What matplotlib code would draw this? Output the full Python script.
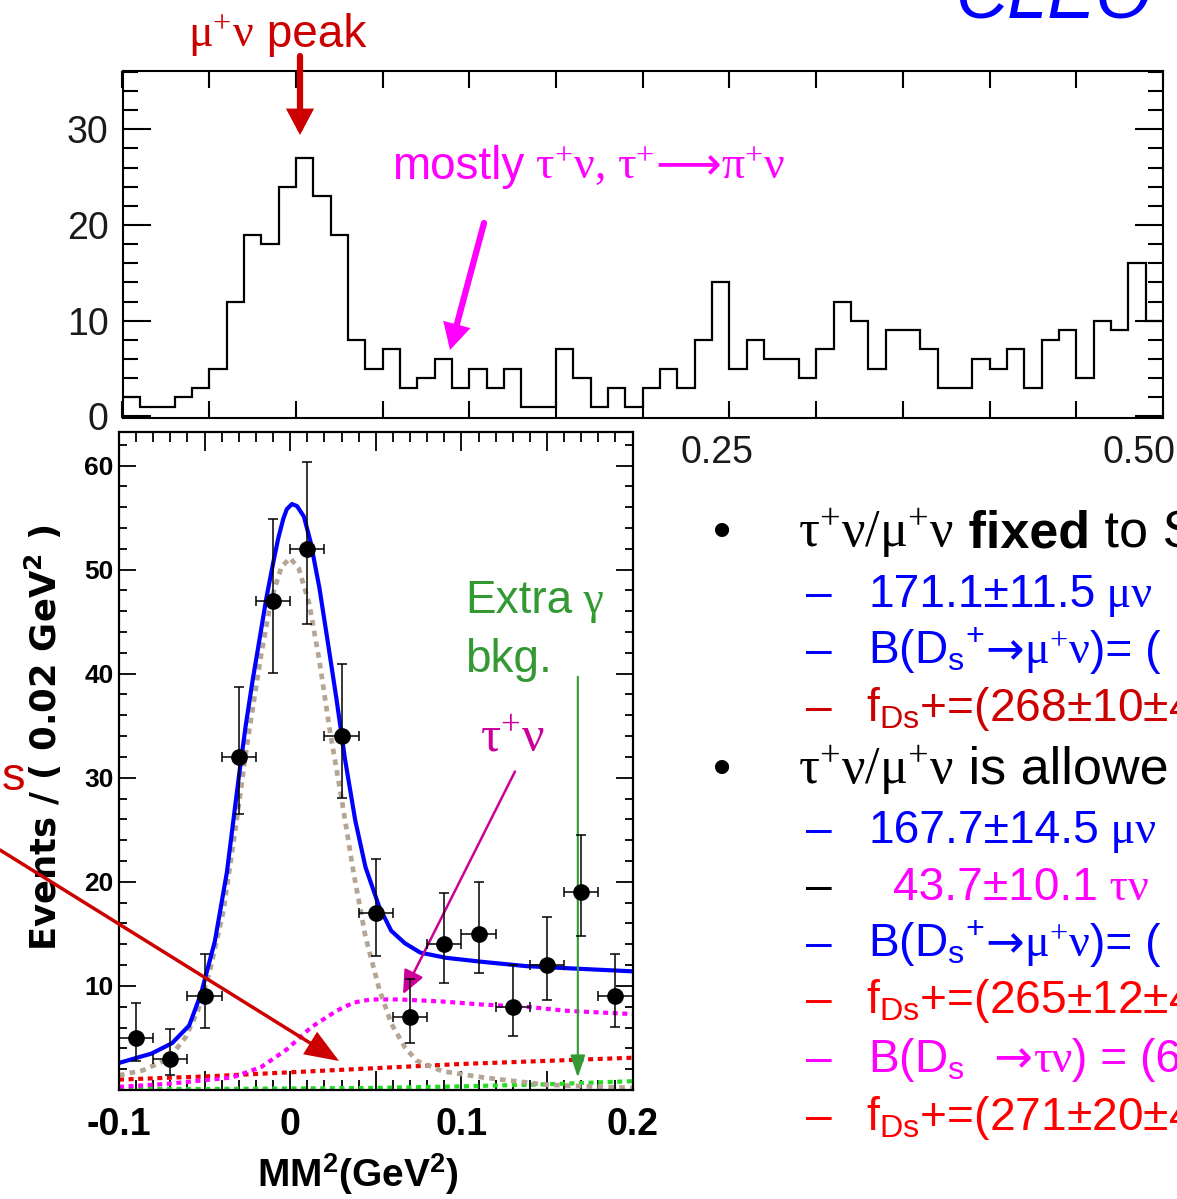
import matplotlib
matplotlib.use("Agg")
import matplotlib.pyplot as plt
import numpy as np
from matplotlib.ticker import MultipleLocator, FuncFormatter, NullFormatter

plt.rcParams["font.family"] = ["Liberation Sans", "DejaVu Sans"]
plt.rcParams["mathtext.default"] = "regular"

SANS = "Liberation Sans"
SERIF = "Liberation Serif"
ARROW = "DejaVu Sans"

# ---- top histogram: MM^2 over the full range, 0.01 GeV^2 bins ----
top_lo = -0.10
top_bin = 0.01
top_counts = [2, 1, 1, 2, 3, 5, 12, 19, 18, 24, 27, 23, 19, 8, 5, 7, 3, 4, 6, 3,
              5, 3, 5, 1, 1, 7, 4, 1, 3, 1, 3, 5, 3, 8, 14, 5, 8, 6, 6, 4,
              7, 12, 10, 5, 9, 9, 7, 3, 3, 6, 5, 7, 3, 8, 9, 4, 10, 9, 16, 10]
top_xlabels = [0.25, 0.50]

# ---- bottom fit: data points (0.02 GeV^2 bins) ----
mm2_x = [-0.09, -0.07, -0.05, -0.03, -0.01, 0.01, 0.03, 0.05, 0.07, 0.09,
         0.11, 0.13, 0.15, 0.17, 0.19]
events = [5, 3, 9, 32, 47, 52, 34, 17, 7, 14, 15, 8, 12, 19, 9]
ev_low = [2.8, 1.4, 6.0, 26.5, 40.1, 44.8, 28.1, 12.9, 4.5, 10.3, 11.2, 5.2, 8.6, 14.8, 6.1]
ev_high = [8.4, 5.9, 13.1, 38.7, 54.9, 60.3, 40.9, 22.2, 10.7, 18.9, 20.0, 12.0, 16.6, 24.5, 13.1]
bin_half = 0.01

# total fit (blue)
fit_x = [-0.100, -0.081, -0.069, -0.059, -0.052, -0.044, -0.037, -0.030, -0.026, -0.022,
         -0.017, -0.014, -0.010, -0.007, -0.004, -0.002, 0.001, 0.004, 0.008, 0.012,
         0.017, 0.022, 0.027, 0.032, 0.038, 0.044, 0.052, 0.059, 0.067, 0.076,
         0.091, 0.113, 0.138, 0.162, 0.200]
fit_y = [2.6, 3.5, 4.5, 6.2, 9.3, 14.3, 20.9, 30.1, 35.0, 39.3,
         44.2, 47.2, 50.6, 53.0, 54.9, 55.8, 56.3, 56.1, 55.1, 52.6,
         48.3, 43.0, 37.6, 31.8, 25.9, 21.4, 17.6, 15.3, 14.1, 13.2,
         12.7, 12.3, 11.9, 11.7, 11.4]
# mu nu signal shape (grey dotted)
sig_x = [-0.100, -0.086, -0.071, -0.061, -0.054, -0.047, -0.039, -0.032, -0.025, -0.017,
         -0.011, -0.005, 0.000, 0.005, 0.011, 0.017, 0.023, 0.030, 0.037, 0.044,
         0.052, 0.059, 0.067, 0.074, 0.089, 0.113, 0.150, 0.200]
sig_y = [1.4, 1.9, 3.0, 5.1, 7.6, 11.4, 17.2, 25.1, 33.4, 41.8,
         47.2, 50.3, 51.1, 50.1, 46.8, 41.3, 34.7, 28.0, 20.9, 14.7,
         9.7, 6.4, 4.1, 2.8, 1.8, 1.2, 0.5, 0.2]
# tau nu (magenta dotted)
tau_x = [-0.100, -0.071, -0.034, -0.017, -0.002, 0.012, 0.027, 0.037, 0.047, 0.064,
         0.089, 0.113, 0.138, 0.162, 0.200]
tau_y = [0.3, 0.6, 1.2, 2.2, 3.9, 6.0, 7.6, 8.4, 8.7, 8.7, 8.5, 8.2, 8.0, 7.6, 7.3]
# other Ds decays (red dotted)
bkg_x = [-0.10, -0.05, 0.00, 0.05, 0.10, 0.15, 0.20]
bkg_y = [1.0, 1.3, 1.7, 2.1, 2.5, 2.8, 3.1]
# extra gamma background (green dotted)
gam_x = [-0.10, -0.05, 0.00, 0.05, 0.10, 0.15, 0.20]
gam_y = [0.1, 0.1, 0.15, 0.2, 0.35, 0.55, 0.85]

W, H = 1177, 1199
fig = plt.figure(figsize=(W / 100, H / 100), dpi=100)

# ---------------- top panel ----------------
ax1 = fig.add_axes([122.5 / W, 1 - 418 / H, (1163 - 122.5) / W, (418 - 71) / H])
edges = top_lo + top_bin * np.arange(len(top_counts) + 1)
ax1.stairs(top_counts, edges, baseline=None, color="black", lw=1.6)
ax1.set_xlim(-0.10, 0.50)
ax1.set_ylim(-0.17, 36.1)
ax1.xaxis.set_major_locator(MultipleLocator(0.05))
ax1.xaxis.set_major_formatter(NullFormatter())
ax1.yaxis.set_major_locator(MultipleLocator(10))
ax1.yaxis.set_minor_locator(MultipleLocator(2))
ax1.tick_params(which="both", direction="in", top=True, right=True, width=1.5)
ax1.tick_params(axis="x", length=12)
ax1.tick_params(axis="y", which="major", length=20, labelsize=27, pad=10, labelcolor="#1a1a1a")
ax1.tick_params(axis="y", which="minor", length=11)
for sp in ax1.spines.values():
    sp.set_linewidth(1.5)
for v, dx in zip(top_xlabels, [-9, -17]):
    ax1.annotate("%.2f" % v, xy=(v, 0), xycoords=("data", "axes fraction"),
                 xytext=(dx, -12), textcoords="offset points",
                 ha="center", va="top", fontsize=27, color="#1a1a1a")

# ---------------- bottom panel ----------------
ax2 = fig.add_axes([119 / W, 1 - 1090 / H, (632.6 - 119) / W, (1090 - 431.7) / H])
dot = (0, (1.2, 1.1))
ax2.plot(gam_x, gam_y, color="#22dd22", lw=3, ls=dot)
ax2.plot(bkg_x, bkg_y, color="#ee0000", lw=3, ls=dot)
ax2.plot(tau_x, tau_y, color="#ff00ff", lw=3, ls=dot)
ax2.plot(sig_x, sig_y, color="#b4a595", lw=3.4, ls=dot)
ax2.plot(fit_x, fit_y, color="#0000ff", lw=3)
yerr = [np.array(events) - np.array(ev_low), np.array(ev_high) - np.array(events)]
ax2.errorbar(mm2_x, events, yerr=yerr, xerr=bin_half, fmt="o", color="black",
             ms=11, elinewidth=1.1, capsize=3.5, capthick=1.1, zorder=5)
ax2.set_xlim(-0.10, 0.20)
ax2.set_ylim(0, 63.25)
ax2.xaxis.set_major_locator(MultipleLocator(0.05))
ax2.xaxis.set_minor_locator(MultipleLocator(0.01))
ax2.yaxis.set_major_locator(MultipleLocator(10))
ax2.yaxis.set_minor_locator(MultipleLocator(2))


def xfmt(v, pos):
    k = int(round(v / 0.05))
    if k % 2:
        return ""
    return "0" if k == 0 else "%g" % (k * 0.05)


ax2.xaxis.set_major_formatter(FuncFormatter(xfmt))
ax2.yaxis.set_major_formatter(FuncFormatter(lambda v, p: "" if v < 1 else "%d" % v))
ax2.tick_params(which="both", direction="in", top=True, right=True, width=1.3)
ax2.tick_params(axis="x", which="major", length=14, labelsize=27, pad=12)
ax2.tick_params(axis="x", which="minor", length=7)
ax2.tick_params(axis="y", which="major", length=12, labelsize=19, pad=4)
ax2.tick_params(axis="y", which="minor", length=6)
for lab in ax2.get_xticklabels() + ax2.get_yticklabels():
    lab.set_fontweight("bold")
for sp in ax2.spines.values():
    sp.set_linewidth(1.6)
ax2.set_xlabel("MM$^{2}$(GeV$^{2}$)", fontsize=28, fontweight="bold")
ax2.xaxis.set_label_coords(0.465, -0.093)
ax2.set_ylabel("Events / ( 0.02 GeV$^{2}$ )", fontsize=25.5, fontweight="bold",
               family="DejaVu Sans", va="center")
ax2.yaxis.set_label_coords(-0.147, 0.535)

# arrows inside the fit panel
ax2.annotate("", xy=(0.168, 1.2), xytext=(0.168, 39.7),
             arrowprops=dict(arrowstyle="-|>,head_length=0.9,head_width=0.3",
                             color="#339933", lw=1.5, mutation_scale=15,
                             shrinkA=0, shrinkB=0))
ax2.annotate("", xy=(0.0659, 9.2), xytext=(0.1313, 30.6),
             arrowprops=dict(arrowstyle="-|>,head_length=0.8,head_width=0.35",
                             color="#cc0099", lw=1.8, mutation_scale=18,
                             shrinkA=0, shrinkB=0))

# ---------------- overlay in pixel coordinates ----------------
ov = fig.add_axes([0, 0, 1, 1], zorder=10)
ov.set_xlim(0, W)
ov.set_ylim(H, 0)
ov.axis("off")
rend = fig.canvas.get_renderer()


def chain(x, y, parts, size, color):
    for s, fam, wt in parts:
        t = ov.text(x, y, s, fontsize=size, family=fam, fontweight=wt,
                    color=color, va="baseline", ha="left")
        x += t.get_window_extent(rend).width
    return x


def arrow(p0, p1, color, lw, scale, hl=0.6, hw=0.32):
    ov.annotate("", xy=p1, xytext=p0,
                arrowprops=dict(arrowstyle="-|>,head_length=%g,head_width=%g" % (hl, hw),
                                color=color, lw=lw, mutation_scale=scale,
                                shrinkA=0, shrinkB=0, joinstyle="miter"))


# CLEO logo (cut at the top of the slide)
ov.text(955, 17, "CLEO", fontsize=52, style="italic", color="#0000ff", va="baseline")

# top panel annotations
chain(188, 47, [("μ$^{+}$ν", SERIF, "normal"), (" peak", SANS, "normal")], 33, "#cc0000")
arrow((300, 56), (300, 135), "#cc0000", 4.5, 20)
chain(392, 179, [("mostly", SANS, "normal"), (" τ$^{+}$ν, τ$^{+}$", SERIF, "normal"),
                 ("⟶", ARROW, "normal"), ("π$^{+}$ν", SERIF, "normal")], 33, "#ff00ff")
arrow((484, 223), (450, 350), "#ff00ff", 4.5, 20)

# fit panel annotations
chain(465, 613, [("Extra", SANS, "normal"), (" γ", SERIF, "normal")], 33, "#339933")
chain(465, 672, [("bkg.", SANS, "normal")], 33, "#339933")
chain(480, 752, [("τ$^{+}$ν", SERIF, "normal")], 36, "#cc0099")
ov.text(25, 790, "s", fontsize=34, color="#cc0000", ha="right", va="baseline")
arrow((0, 850), (339, 1061), "#cc0000", 2.5, 22, 0.9, 0.35)

# slide text on the right
B_SIZE, S_SIZE = 37.5, 33.2
mu_ratio = [("B(D$_{s}{}^{+}$", SANS, "normal"), ("→", ARROW, "normal"),
            ("μ$^{+}$ν", SERIF, "normal"), (")= (", SANS, "normal")]
slide_lines = [
    ("•", 547, "black", 798, [("τ$^{+}$ν/μ$^{+}$ν", SERIF, "normal"), (" fixed", SANS, "bold"),
                              (" to S", SANS, "normal")], "black", B_SIZE),
    ("–", 607, "#0000ff", 868, [("171.1±11.5", SANS, "normal"), (" μν", SERIF, "normal")],
     "#0000ff", S_SIZE),
    ("–", 664, "#0000ff", 868, mu_ratio, "#0000ff", S_SIZE),
    ("–", 721, "#cc0000", 866, [("f$_{Ds}$+=(268±10±4", SANS, "normal")], "#cc0000", S_SIZE),
    ("•", 784, "black", 798, [("τ$^{+}$ν/μ$^{+}$ν", SERIF, "normal"),
                              (" is allowe", SANS, "normal")], "black", B_SIZE),
    ("–", 843, "#0000ff", 868, [("167.7±14.5", SANS, "normal"), (" μν", SERIF, "normal")],
     "#0000ff", S_SIZE),
    ("–", 900, "black", 893, [("43.7±10.1", SANS, "normal"), (" τν", SERIF, "normal")],
     "#ff00ff", S_SIZE),
    ("–", 957, "#0000ff", 868, mu_ratio, "#0000ff", S_SIZE),
    ("–", 1013, "#ff0000", 866, [("f$_{Ds}$+=(265±12±4", SANS, "normal")], "#ff0000", S_SIZE),
    ("–", 1072, "#ff00ff", 868, [("B(D$_{s}$", SANS, "normal"), ("  →", ARROW, "normal"),
                                 ("τν", SERIF, "normal"), (") = (6", SANS, "normal")],
     "#ff00ff", S_SIZE),
    ("–", 1130, "#ff0000", 866, [("f$_{Ds}$+=(271±20±4", SANS, "normal")], "#ff0000", S_SIZE),
]
for mark, yb, mcol, tx, parts, col, size in slide_lines:
    mx = 713 if mark == "•" else 806
    ov.text(mx, yb, mark, fontsize=size, color=mcol, va="baseline", ha="left")
    chain(tx, yb, parts, size, col)

fig.savefig("out.png", dpi=100)
